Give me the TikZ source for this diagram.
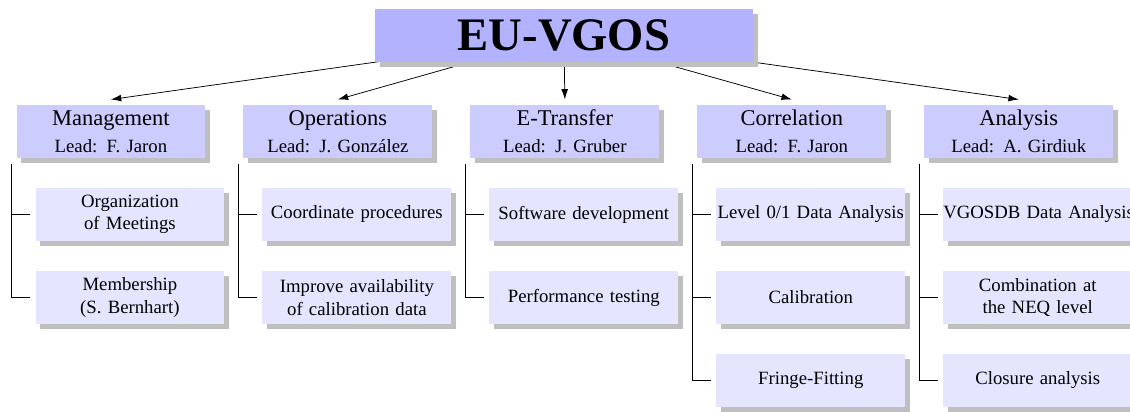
\documentclass[tikz,border=0pt]{standalone}
\usepackage{fontspec}
\setmainfont{Liberation Serif}
\usetikzlibrary{shadows,backgrounds,arrows.meta}

\tikzset{
	wpbox/.style={inner xsep=0pt, inner ysep=2pt, outer sep=0.1cm, minimum height=1cm, align=center,
		drop shadow={shadow xshift=0.09cm, shadow yshift=-0.09cm, fill=black!25, opacity=1}},
	mainbox/.style={wpbox, fill=blue!30, minimum width=7.09cm, font=\Huge\bfseries},
	groupbox/.style={wpbox, fill=blue!20, text width=3.54cm},
	taskbox/.style={wpbox, fill=blue!10, text width=3.54cm},
	link/.style={-{Latex[length=5.5pt,width=3.6pt]}},
	fork/.style={black}
}

\begin{document}
\begin{tikzpicture}
			\useasboundingbox (0,0) rectangle (21.19,-7.71);
			\node[mainbox] (vgos) at (10.575,-0.666) {EU-VGOS};
			\foreach \name/\title/\lead [count=\i from 0] in {mgmt/Management/F. Jaron,ops/Operations/J. González,etr/E-Transfer/J. Gruber,corr/Correlation/F. Jaron,ana/Analysis/A. Girdiuk}
				\node[groupbox] (\name) at (2.08+4.256*\i,-2.466) {{\large \title}\\[2.4pt]Lead: \lead};
			% work packages
			\node[taskbox] (mgmt1) at (2.436,-4.022) {Organization\\of Meetings};
			\node[taskbox] (mgmt2) at (2.436,-5.578) {Membership\\(S. Bernhart)};
			\node[taskbox] (ops1) at (6.692,-4.022) {Coordinate procedures};
			\node[taskbox] (ops2) at (6.692,-5.578) {Improve availability\\of calibration data};
			\node[taskbox] (etr1) at (10.948,-4.022) {Software development};
			\node[taskbox] (etr2) at (10.948,-5.578) {Performance testing};
			\node[taskbox] (corr1) at (15.204,-4.022) {Level 0/1 Data Analysis};
			\node[taskbox] (corr2) at (15.204,-5.578) {Calibration};
			\node[taskbox] (corr3) at (15.204,-7.134) {Fringe-Fitting};
			\node[taskbox] (ana1) at (19.46,-4.022) {\mbox{VGOSDB Data Analysis}};
			\node[taskbox] (ana2) at (19.46,-5.578) {Combination at\\the NEQ level};
			\node[taskbox] (ana3) at (19.46,-7.134) {Closure analysis};
			\begin{scope}[on background layer]
				\foreach \name in {mgmt,ops,etr,corr,ana}
					\draw[link] (vgos.center) -- (\name.north);
				\foreach \p/\c in {mgmt/mgmt1,mgmt/mgmt2,ops/ops1,ops/ops2,etr/etr1,etr/etr2,corr/corr1,corr/corr2,corr/corr3,ana/ana1,ana/ana2,ana/ana3}
					\draw[fork] (\p.south west) |- (\c.west);
			\end{scope}
		\end{tikzpicture}
\end{document}
